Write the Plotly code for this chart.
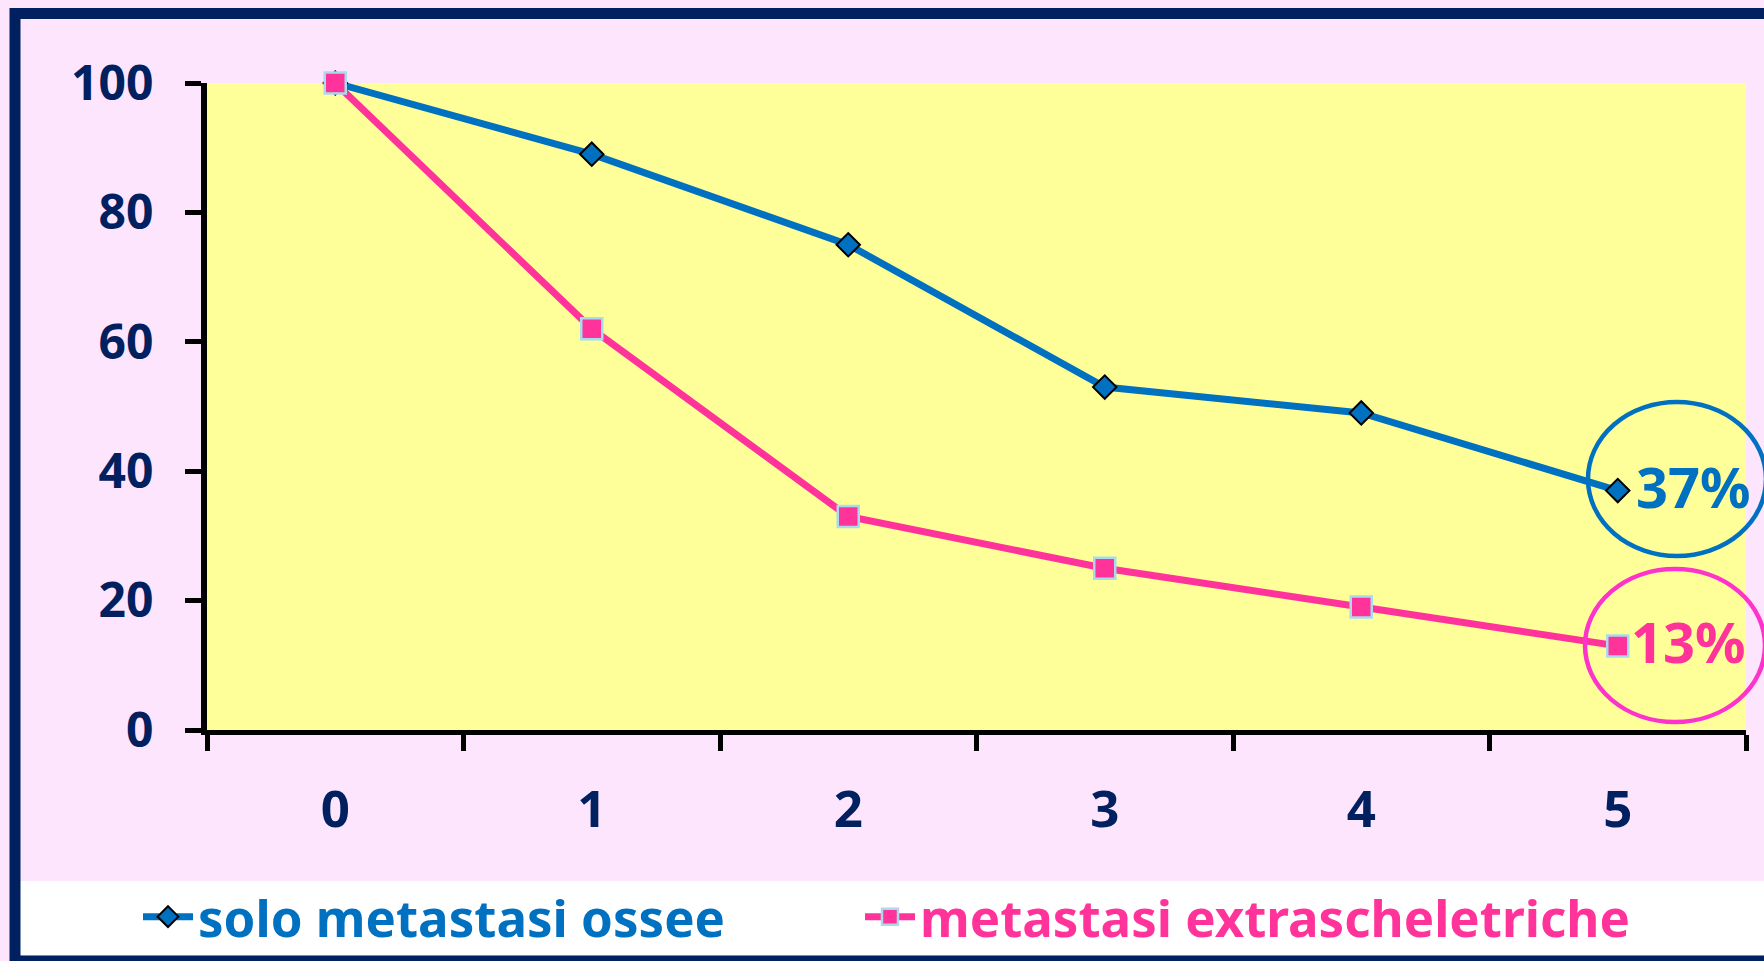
import plotly.graph_objects as go

# Survival curves (%) by year
years = ["0", "1", "2", "3", "4", "5"]
solo_ossee = [100, 89, 75, 53, 49, 37]
extrascheletriche = [100, 62, 33, 25, 19, 13]
y_ticks = [0, 20, 40, 60, 80, 100]

series_names = ["solo metastasi ossee", "metastasi extrascheletriche"]

BLUE = "#0070C0"
PINK = "#FF3399"
MAGENTA = "#FF33CC"
NAVY = "#002060"
PINK_BG = "#FDE5FD"
YELLOW = "#FFFF99"
FONT = "Comic Sans MS, Noto Sans, DejaVu Sans"

W, H = 1764, 961
L, R, T, B = 207, 18, 83, 231

fig = go.Figure()

fig.add_trace(go.Scatter(
    x=years, y=solo_ossee,
    name=f"<span style='color:{BLUE}'><b>{series_names[0]}</b></span>",
    mode="lines+markers",
    line=dict(color=BLUE, width=7),
    marker=dict(symbol="diamond", size=18, color=BLUE,
                line=dict(color="black", width=2)),
    cliponaxis=False,
    legend="legend",
))
fig.add_trace(go.Scatter(
    x=years, y=extrascheletriche,
    name=f"<span style='color:{PINK}'><b>{series_names[1]}</b></span>",
    mode="lines+markers",
    line=dict(color=PINK, width=7),
    marker=dict(symbol="square", size=21, color=PINK,
                line=dict(color="#A8DCEC", width=2.5)),
    cliponaxis=False,
    legend="legend2",
))

# End-point value labels
fig.add_annotation(x=years[-1], y=solo_ossee[-1], text=f"<b>{solo_ossee[-1]}%</b>",
                   showarrow=False, xanchor="left", yanchor="middle",
                   xshift=16, yshift=5, font=dict(family=FONT, size=56, color=BLUE))
fig.add_annotation(x=years[-1], y=extrascheletriche[-1], text=f"<b>{extrascheletriche[-1]}%</b>",
                   showarrow=False, xanchor="left", yanchor="middle",
                   xshift=11, yshift=5, font=dict(family=FONT, size=56, color=PINK))

pw, ph = W - L - R, H - T - B


def px_x(v):
    return (v - L) / pw


def px_y(v):
    return (H - B - v) / ph


shapes = [
    # white legend band
    dict(type="rect", xref="paper", yref="paper", layer="below",
         x0=px_x(20), x1=px_x(W + 10), y0=px_y(955), y1=px_y(881),
         fillcolor="white", line=dict(width=0)),
    # navy frame
    dict(type="rect", xref="paper", yref="paper", layer="above",
         x0=px_x(15), x1=px_x(W + 20), y0=px_y(961), y1=px_y(13.5),
         fillcolor="rgba(0,0,0,0)", line=dict(color=NAVY, width=11)),
    # highlight ellipses around the final values
    dict(type="circle", xref="paper", yref="paper", layer="above",
         x0=px_x(1588), x1=px_x(1766), y0=px_y(556), y1=px_y(402),
         line=dict(color=BLUE, width=4.5)),
    dict(type="circle", xref="paper", yref="paper", layer="above",
         x0=px_x(1585), x1=px_x(1765), y0=px_y(722), y1=px_y(569),
         line=dict(color=MAGENTA, width=4.5)),
]

legend_style = dict(
    orientation="h", y=px_y(917), xanchor="left", yanchor="middle",
    bgcolor="rgba(0,0,0,0)", font=dict(family=FONT, size=51), itemwidth=50,
)

fig.update_layout(
    width=W, height=H,
    margin=dict(l=L, r=R, t=T, b=B, pad=0, autoexpand=False),
    paper_bgcolor=PINK_BG,
    plot_bgcolor=YELLOW,
    shapes=shapes,
    showlegend=True,
    legend=dict(x=px_x(138), **legend_style),
    legend2=dict(x=px_x(860), **legend_style),
    xaxis=dict(
        type="category", range=[-0.5, 5.5], tickson="boundaries",
        showline=True, linecolor="black", linewidth=5,
        ticks="outside", ticklen=16, tickwidth=5, tickcolor="black",
        showgrid=False, zeroline=False, automargin=False,
        tickfont=dict(family=FONT, size=51, color=NAVY, weight="bold"),
        ticklabelstandoff=31,
    ),
    yaxis=dict(
        range=[0, 100], tickvals=y_ticks,
        showline=True, linecolor="black", linewidth=6,
        ticks="outside", ticklen=16, tickwidth=5, tickcolor="black",
        showgrid=False, zeroline=False, automargin=False,
        tickfont=dict(family=FONT, size=48, color=NAVY, weight="bold"),
        ticklabelstandoff=22,
    ),
)

fig.write_html("out.html")
